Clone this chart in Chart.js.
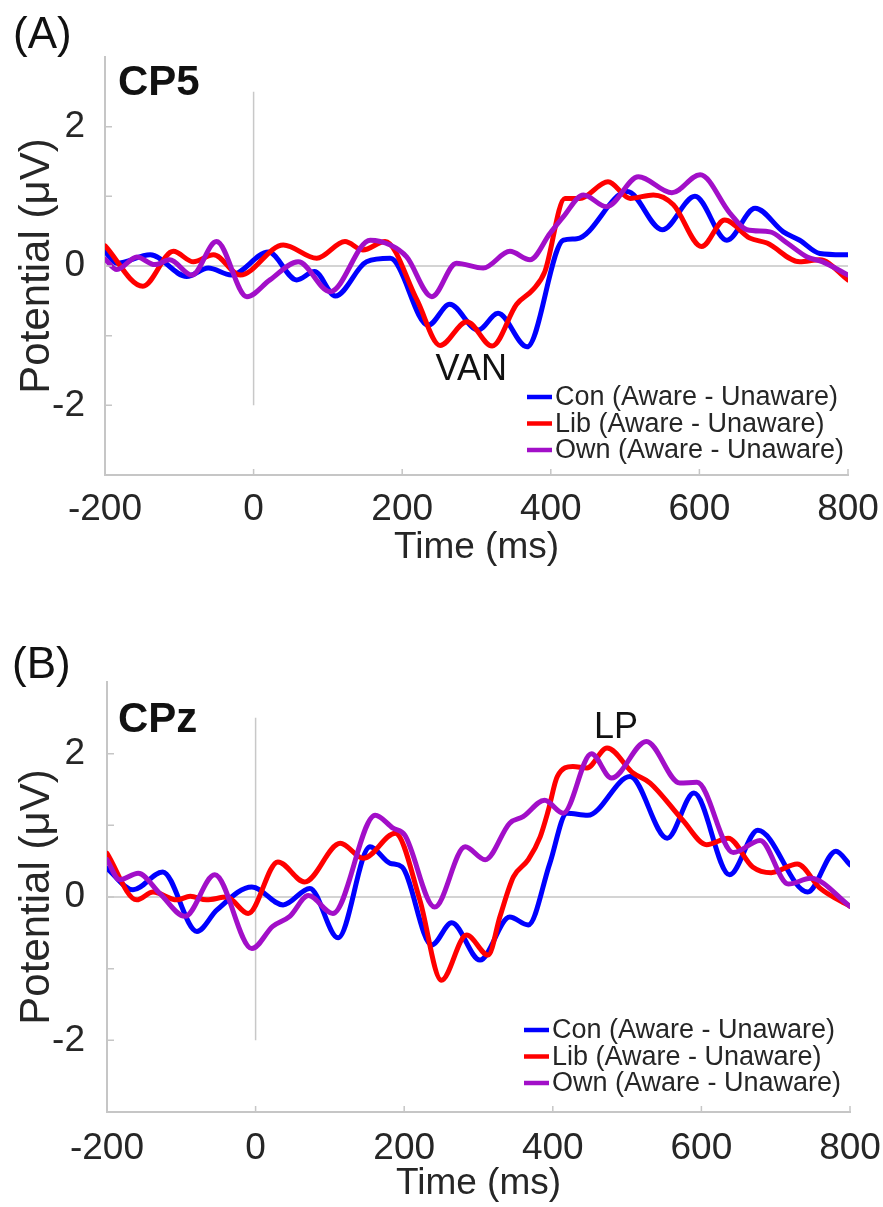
<!DOCTYPE html>
<html>
<head>
<meta charset="utf-8">
<script src="https://cdn.jsdelivr.net/npm/chart.js@4.4.1/dist/chart.umd.min.js"></script>
<style>
  html, body { margin: 0; padding: 0; background: #fff; }
  canvas { display: block; }
</style>
</head>
<body>
<canvas id="panelA" width="883" height="600"></canvas>
<canvas id="panelB" width="883" height="607"></canvas>
<script>
// ---- values (time in ms, potential in µV) ----
const xTicks = [-200, 0, 200, 400, 600, 800];
const yTicks = [-2, -1, 0, 1, 2];
const seriesNames = ['Con (Aware - Unaware)', 'Lib (Aware - Unaware)', 'Own (Aware - Unaware)'];

// Panel A - CP5
const conA_t = [-200, -184, -139, -90, -61, -30, 20, 58, 82, 110, 152, 184, 235, 264, 302, 329, 368, 417, 435, 503, 550, 594, 637, 675, 713, 735, 762, 800];
const conA_v = [0.21, 0.04, 0.16, -0.15, -0.03, -0.13, 0.20, -0.20, -0.08, -0.43, 0.06, 0.11, -0.85, -0.55, -0.92, -0.68, -1.16, 0.37, 0.39, 1.07, 0.52, 1.00, 0.37, 0.83, 0.49, 0.37, 0.18, 0.16];
const libA_t = [-200, -149, -108, -81, -54, -18, 40, 85, 123, 147, 177, 220, 251, 287, 321, 354, 376, 392, 419, 439, 477, 507, 538, 565, 603, 634, 668, 691, 735, 762, 800];
const libA_v = [0.29, -0.29, 0.21, 0.06, 0.16, -0.13, 0.30, 0.11, 0.35, 0.23, 0.35, -0.49, -1.14, -0.80, -1.15, -0.55, -0.34, -0.08, 0.97, 0.97, 1.21, 0.97, 1.02, 0.88, 0.28, 0.66, 0.40, 0.33, 0.06, 0.09, -0.20];
const ownA_t = [-200, -184, -157, -133, -113, -83, -50, -9, 22, 60, 103, 157, 184, 206, 240, 273, 309, 345, 372, 399, 417, 444, 475, 518, 563, 601, 641, 664, 695, 718, 745, 766, 800];
const ownA_v = [0.10, -0.05, 0.13, 0.02, 0.09, -0.13, 0.35, -0.44, -0.20, 0.06, -0.37, 0.37, 0.30, 0.13, -0.44, 0.04, -0.03, 0.21, 0.09, 0.47, 0.71, 1.02, 0.85, 1.28, 1.05, 1.31, 0.76, 0.52, 0.49, 0.33, 0.13, 0.06, -0.13];

// Panel B - CPz
const conB_t = [-200, -165, -125, -79, -52, -5, 37, 73, 111, 154, 181, 197, 237, 264, 302, 342, 367, 396, 419, 447, 504, 554, 590, 638, 676, 743, 781, 800];
const conB_v = [0.40, 0.10, 0.35, -0.48, -0.18, 0.14, -0.11, 0.12, -0.57, 0.70, 0.47, 0.42, -0.67, -0.36, -0.88, -0.28, -0.39, 0.47, 1.17, 1.14, 1.68, 0.82, 1.45, 0.31, 0.93, 0.07, 0.64, 0.45];
const libB_t = [-200, -160, -138, -106, -88, -66, -39, -10, 30, 66, 114, 145, 188, 221, 250, 284, 313, 329, 347, 367, 383, 394, 406, 427, 446, 473, 508, 531, 575, 607, 636, 669, 694, 729, 760, 800];
const libB_v = [0.61, -0.04, 0.07, -0.04, 0.01, -0.04, 0.00, -0.23, 0.49, 0.21, 0.75, 0.54, 0.89, -0.04, -1.16, -0.53, -0.81, -0.27, 0.28, 0.52, 0.84, 1.21, 1.68, 1.82, 1.80, 2.08, 1.73, 1.59, 1.07, 0.73, 0.82, 0.42, 0.34, 0.46, 0.12, -0.13];
const ownB_t = [-200, -183, -158, -129, -95, -55, -5, 23, 46, 71, 104, 161, 185, 201, 241, 282, 309, 342, 360, 389, 414, 452, 479, 526, 571, 594, 643, 679, 717, 747, 800];
const ownB_v = [0.52, 0.24, 0.33, 0.05, -0.27, 0.31, -0.72, -0.41, -0.27, 0.02, -0.23, 1.14, 0.96, 0.86, -0.14, 0.70, 0.52, 1.03, 1.12, 1.35, 1.17, 2.00, 1.66, 2.17, 1.59, 1.60, 0.62, 0.79, 0.18, 0.26, -0.13];

const onsetSpan = [-2, 2.5];   // vertical stimulus-onset line (µV)

// ---- styling ----
const FONT = "'Liberation Sans', Arial, Helvetica, sans-serif";
const AXIS = '#c6c6c6';
const TXT = '#262626';
const COLORS = ['#0000ff', '#ff0000', '#a20fc8'];

Chart.defaults.font.family = FONT;

function pts(t, v) { return t.map((x, i) => ({ x: x, y: v[i] })); }

function decor(cfg) {
  return {
    id: 'decor',
    beforeDatasetsDraw(chart) {
      const { ctx, scales: { x, y } } = chart;
      ctx.save();
      ctx.strokeStyle = '#d4d4d4';
      ctx.lineWidth = 2;
      ctx.beginPath();
      ctx.moveTo(x.getPixelForValue(xTicks[0]), y.getPixelForValue(0));
      ctx.lineTo(x.getPixelForValue(xTicks[xTicks.length - 1]), y.getPixelForValue(0));
      ctx.stroke();
      ctx.strokeStyle = '#c8c8c8';
      ctx.lineWidth = 1.5;
      ctx.beginPath();
      ctx.moveTo(x.getPixelForValue(0), y.getPixelForValue(onsetSpan[0]));
      ctx.lineTo(x.getPixelForValue(0), y.getPixelForValue(onsetSpan[1]));
      ctx.stroke();
      ctx.restore();
    },
    afterDraw(chart) {
      const { ctx, chartArea: ca, scales: { x, y } } = chart;
      ctx.save();
      // inward tick marks (MATLAB style)
      ctx.strokeStyle = AXIS;
      ctx.lineWidth = 1.5;
      ctx.beginPath();
      x.ticks.forEach(t => {
        const px = x.getPixelForValue(t.value);
        ctx.moveTo(px, ca.bottom);
        ctx.lineTo(px, ca.bottom - 6);
      });
      y.ticks.forEach(t => {
        const py = y.getPixelForValue(t.value);
        ctx.moveTo(ca.left, py);
        ctx.lineTo(ca.left + 7, py);
      });
      ctx.stroke();

      // panel letter + channel
      ctx.fillStyle = '#111';
      ctx.textAlign = 'left';
      ctx.textBaseline = 'alphabetic';
      ctx.font = '44px ' + FONT;
      ctx.fillText(cfg.letter, cfg.letterPos[0], cfg.letterPos[1]);
      ctx.font = 'bold 42px ' + FONT;
      ctx.fillText(cfg.channel, cfg.channelPos[0], cfg.channelPos[1]);

      // component annotation
      ctx.font = '36px ' + FONT;
      ctx.textAlign = 'center';
      ctx.textBaseline = 'middle';
      ctx.fillText(cfg.note, x.getPixelForValue(cfg.noteAt[0]), y.getPixelForValue(cfg.noteAt[1]));

      // legend
      ctx.font = '27px ' + FONT;
      ctx.textAlign = 'left';
      chart.data.datasets.forEach((d, i) => {
        const ly = cfg.legY + i * 26.5;
        ctx.strokeStyle = d.borderColor;
        ctx.lineWidth = 4.5;
        ctx.beginPath();
        ctx.moveTo(cfg.legX, ly);
        ctx.lineTo(cfg.legX + 25, ly);
        ctx.stroke();
        ctx.fillStyle = TXT;
        ctx.fillText(d.label, cfg.legX + 28, ly + 1);
      });
      ctx.restore();
    }
  };
}

function makePanel(id, cfg) {
  const raw = [cfg.con, cfg.lib, cfg.own];
  const datasets = raw.map((s, i) => ({
    label: seriesNames[i],
    data: pts(s[0], s[1]),
    borderColor: COLORS[i],
    borderWidth: 5,
    borderCapStyle: 'round',
    borderJoinStyle: 'round',
    pointRadius: 0,
    cubicInterpolationMode: 'monotone',
    fill: false,
    order: 3 - i
  }));
  return new Chart(document.getElementById(id), {
    type: 'line',
    data: { datasets: datasets },
    options: {
      responsive: false,
      animation: false,
      devicePixelRatio: 1,
      layout: { padding: { top: cfg.top, right: cfg.right, left: 0, bottom: 0 } },
      plugins: { legend: { display: false }, tooltip: { enabled: false } },
      scales: {
        x: {
          type: 'linear', min: -200, max: 800,
          afterBuildTicks: s => { s.ticks = xTicks.map(v => ({ value: v })); },
          afterFit: s => { s.height = cfg.xH; s.paddingLeft = 0; s.paddingRight = 0; },
          grid: { display: false },
          border: { color: AXIS, width: 2 },
          ticks: { font: { size: 37, lineHeight: 1 }, color: TXT, padding: cfg.xTickPad, maxRotation: 0, autoSkip: false },
          title: { display: true, text: 'Time (ms)', color: TXT, font: { size: 37, lineHeight: 1 }, padding: { top: 0, bottom: cfg.xTitlePad } }
        },
        y: {
          type: 'linear', min: -3, max: 3,
          afterBuildTicks: s => { s.ticks = yTicks.map(v => ({ value: v })); },
          afterFit: s => { s.width = cfg.yW; s.paddingTop = 0; s.paddingBottom = 0; },
          grid: { display: false },
          border: { color: AXIS, width: 2 },
          ticks: {
            font: { size: 37, lineHeight: 1 }, color: TXT, padding: cfg.yTickPad, autoSkip: false,
            callback: v => (v % 2 === 0 ? String(v) : '')
          },
          title: { display: true, text: 'Potential (\u03bcV)', color: TXT, font: { size: 42, lineHeight: 1 }, padding: { top: 16, bottom: 0 } }
        }
      }
    },
    plugins: [decor(cfg)]
  });
}

makePanel('panelA', {
  con: [conA_t, conA_v], lib: [libA_t, libA_v], own: [ownA_t, ownA_v],
  top: 57, right: 35, xH: 125, yW: 105, yTickPad: 12, xTickPad: 8, xTitlePad: 34,
  letter: '(A)', letterPos: [13, 48], channel: 'CP5', channelPos: [118, 95],
  note: 'VAN', noteAt: [293, -1.49], legX: 527, legY: 397
});

makePanel('panelB', {
  con: [conB_t, conB_v], lib: [libB_t, libB_v], own: [ownB_t, ownB_v],
  top: 82, right: 33, xH: 95, yW: 107, yTickPad: 14, xTickPad: 10, xTitlePad: 5,
  letter: '(B)', letterPos: [12, 78], channel: 'CPz', channelPos: [118, 132],
  note: 'LP', noteAt: [485, 2.36], legX: 524, legY: 430
});
</script>
</body>
</html>
